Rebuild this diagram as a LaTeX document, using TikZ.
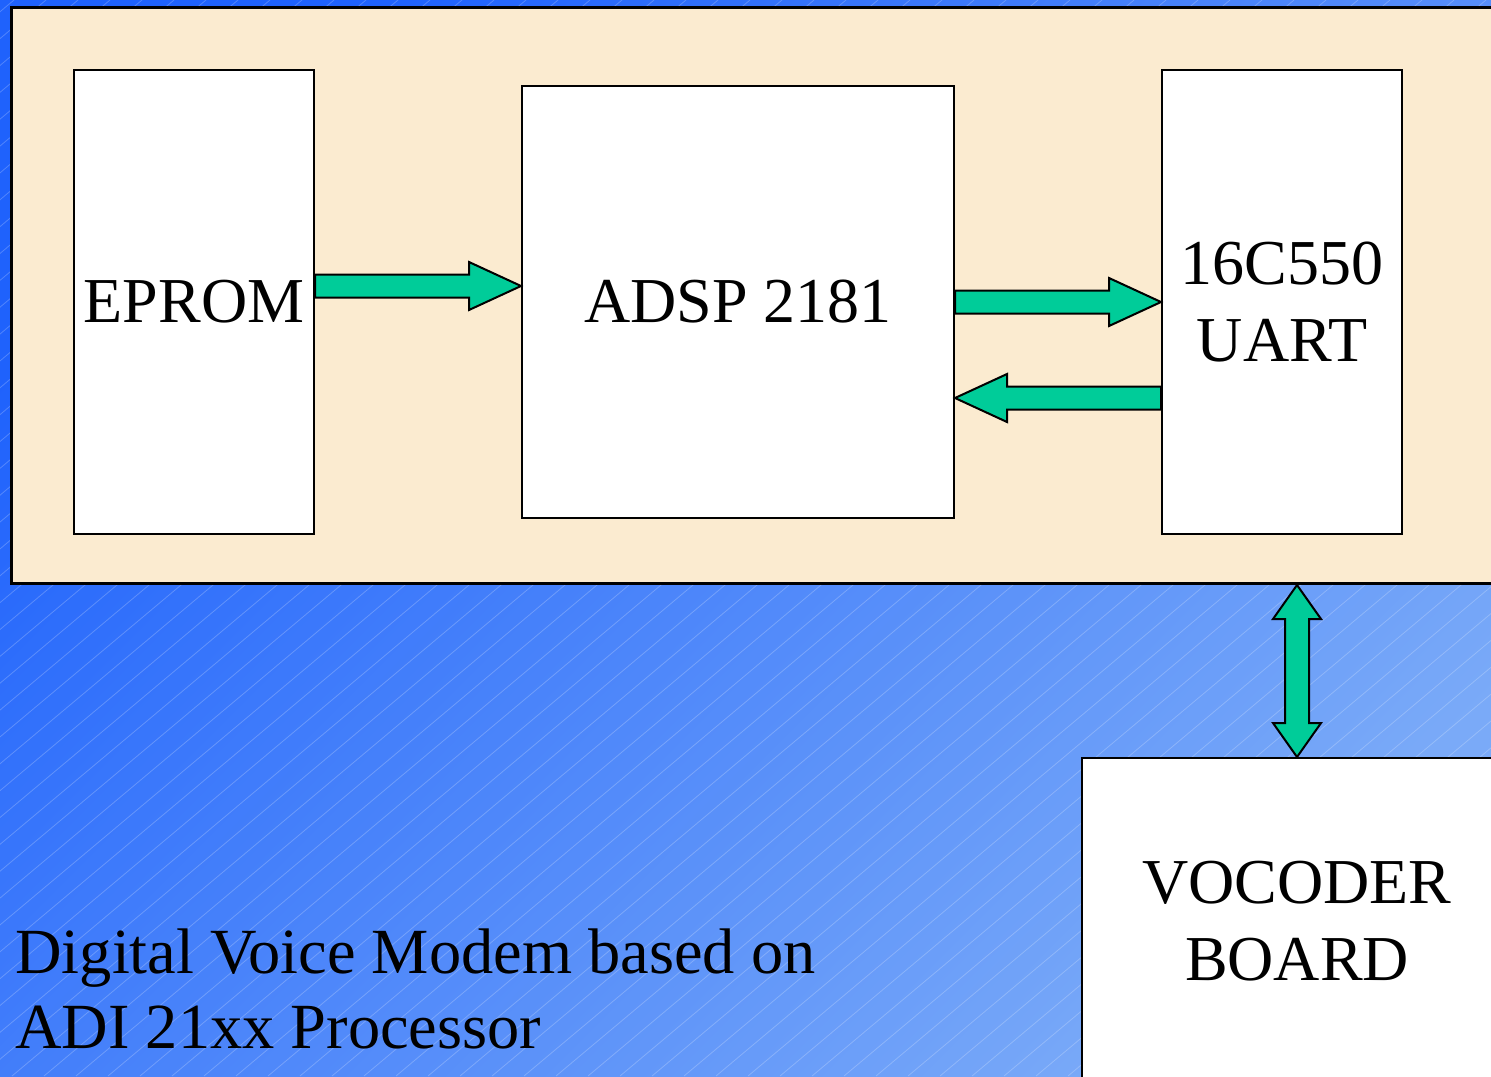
\documentclass[tikz,border=0pt]{standalone}
\usepackage{fontspec}
\setmainfont{Liberation Serif}
\usetikzlibrary{calc}
\definecolor{bgdark}{HTML}{1F62FC}
\definecolor{bglight}{HTML}{7AAAF8}
\definecolor{beige}{HTML}{FBEBD0}
\definecolor{arrowgreen}{HTML}{00CC99}
\newcommand\bigtext{\fontsize{32}{38.5}\selectfont}
\tikzset{
  blockbox/.style={draw=black, fill=white, line width=1pt, inner sep=0pt, align=center, font=\bigtext},
  fatarrow/.style={draw=black, fill=arrowgreen, line width=1pt, line join=miter},
}
\newcommand\harrowdraw[2]{%
  \draw[fatarrow] let \p1=(#1), \p2=(#2), \n1={sign(\x2-\x1)} in
   (\x1,{\y1+5.75pt}) -- ({\x2-\n1*26pt},{\y1+5.75pt}) -- ({\x2-\n1*26pt},{\y1+12pt})
   -- (\x2,\y1) -- ({\x2-\n1*26pt},{\y1-12pt}) -- ({\x2-\n1*26pt},{\y1-5.75pt})
   -- (\x1,{\y1-5.75pt}) -- cycle;}
\begin{document}
\begin{tikzpicture}[x=0.5pt,y=-0.5pt]
\useasboundingbox (0,0) rectangle (1491,1076);
\clip (0,0) rectangle (1491,1076);
% background
\shade[top color=bgdark, bottom color=bglight, shading angle=45] (0,0) rectangle (1491,1076);
\foreach \x in {-1300,-1268,...,1500}
  \draw[white, opacity=0.22, line width=0.4pt] (\x,1076) -- ({\x+1282},0);
% board panel
\node[draw=black, fill=beige, line width=1.5pt, minimum width=755pt, minimum height=288pt, inner sep=0pt, anchor=north west] (board) at (10,6) {};
% blocks
\node[blockbox, minimum width=120pt, minimum height=232pt] (eprom) at (194,302) {EPROM};
\node[blockbox, minimum width=216pt, minimum height=216pt] (adsp) at (738,302) {ADSP 2181};
\node[blockbox, minimum width=120pt, minimum height=232pt] (uart) at (1282,302) {16C550\\UART};
\node[blockbox, minimum width=215pt, minimum height=163pt] (vocoder) at (1297,921) {VOCODER\\BOARD};
% arrows
\harrowdraw{[yshift=8pt]eprom.east}{[yshift=8pt]adsp.west}
\harrowdraw{adsp.east}{uart.west}
\harrowdraw{[yshift=-48pt]uart.west}{[yshift=-48pt]adsp.east}
\coordinate (vtop) at (vocoder.north |- board.south);
\draw[fatarrow] let \p1=(vtop), \p2=(vocoder.north) in
  (\x1,\y1) -- ({\x1+12pt},{\y1-17pt}) -- ({\x1+6pt},{\y1-17pt}) -- ({\x1+6pt},{\y2+17pt})
  -- ({\x1+12pt},{\y2+17pt}) -- (\x1,\y2) -- ({\x1-12pt},{\y2+17pt}) -- ({\x1-6pt},{\y2+17pt})
  -- ({\x1-6pt},{\y1-17pt}) -- ({\x1-12pt},{\y1-17pt}) -- cycle;
% caption
\node[anchor=base west, align=left, font=\fontsize{32.2}{37.5}\selectfont, inner sep=0pt] (caption) at (15,1048) {Digital Voice Modem based on\\ADI 21xx Processor};
\end{tikzpicture}
\end{document}
